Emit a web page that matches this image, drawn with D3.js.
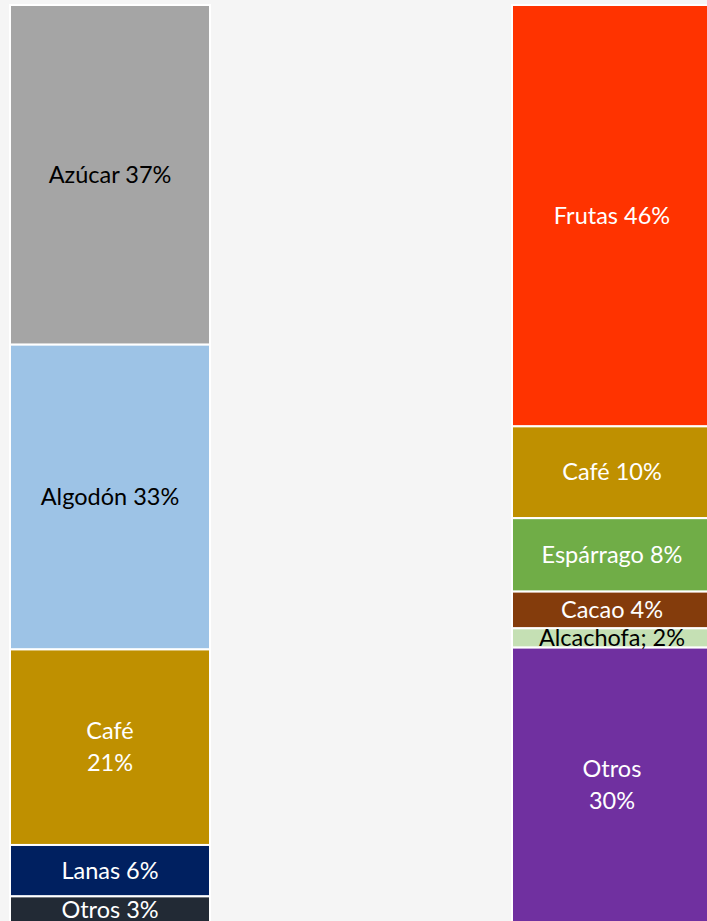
<!DOCTYPE html>
<html>
<head>
<meta charset="utf-8">
<script src="https://cdn.jsdelivr.net/npm/d3@7"></script>
<style>
  html, body { margin: 0; padding: 0; background: #f5f5f5; overflow: hidden; }
  svg { display: block; }
</style>
</head>
<body>
<svg class="stack-chart" width="707" height="921"></svg>
<script>
// left bar
const leftNames = ["Azúcar", "Algodón", "Café", "Lanas", "Otros"];
const leftValues = [37.0, 33.2, 21.3, 5.6, 2.9];
const leftLabels = ["Azúcar 37%", "Algodón 33%", "Café\n21%", "Lanas 6%", "Otros 3%"];
const leftColors = ["#a5a5a5", "#9dc3e6", "#bf9000", "#002060", "#222a35"];
const leftText = ["#000", "#000", "#fff", "#fff", "#fff"];

// right bar
const rightNames = ["Frutas", "Café", "Espárrago", "Cacao", "Alcachofa", "Otros"];
const rightValues = [45.9, 10.0, 8.0, 4.0, 2.1, 30.0];
const rightLabels = ["Frutas 46%", "Café 10%", "Espárrago 8%", "Cacao 4%", "Alcachofa; 2%", "Otros\n30%"];
const rightColors = ["#ff3300", "#bf9000", "#70ad47", "#843c0c", "#c5e0b4", "#7030a0"];
const rightText = ["#fff", "#fff", "#fff", "#fff", "#000", "#fff"];

function drawStacks() {
    const svg = d3.select("svg.stack-chart");

    const bars = [
        {key: "left", names: leftNames, values: leftValues, labels: leftLabels, colors: leftColors, text: leftText},
        {key: "right", names: rightNames, values: rightValues, labels: rightLabels, colors: rightColors, text: rightText}
    ];

    const x = d3.scaleBand()
        .domain(bars.map(d => d.key))
        .range([10, 712])
        .paddingInner(302 / 502);

    const y = d3.scaleLinear().domain([0, 100]).range([5, 923]);

    bars.forEach(bar => {
        const ends = d3.cumsum(bar.values);
        const segs = bar.values.map((v, i) => ({
            name: bar.names[i],
            y0: ends[i] - v,
            y1: ends[i],
            label: bar.labels[i],
            color: bar.colors[i],
            text: bar.text[i]
        }));

        const g = svg.append("g").attr("class", "bar bar--" + bar.key);

        g.selectAll("rect")
            .data(segs)
            .join("rect")
            .attr("x", x(bar.key))
            .attr("y", d => y(d.y0))
            .attr("width", x.bandwidth())
            .attr("height", d => y(d.y1) - y(d.y0))
            .attr("fill", d => d.color)
            .attr("stroke", "#fff")
            .attr("stroke-width", 2);

        const t = g.selectAll("text")
            .data(segs)
            .join("text")
            .attr("x", x(bar.key) + x.bandwidth() / 2)
            .attr("y", d => (y(d.y0) + y(d.y1)) / 2)
            .attr("text-anchor", "middle")
            .attr("fill", d => d.text)
            .style("font-family", "Lato, 'Open Sans', sans-serif")
            .style("font-size", "23.5px");

        t.each(function(d) {
            const lines = d.label.split("\n");
            const el = d3.select(this);
            const lh = 32;
            lines.forEach((line, i) => {
                el.append("tspan")
                    .attr("x", x(bar.key) + x.bandwidth() / 2)
                    .attr("dy", i === 0 ? (-(lines.length - 1) * lh / 2 + 8) : lh)
                    .text(line);
            });
        });
    });
}

drawStacks();
</script>
</body>
</html>
